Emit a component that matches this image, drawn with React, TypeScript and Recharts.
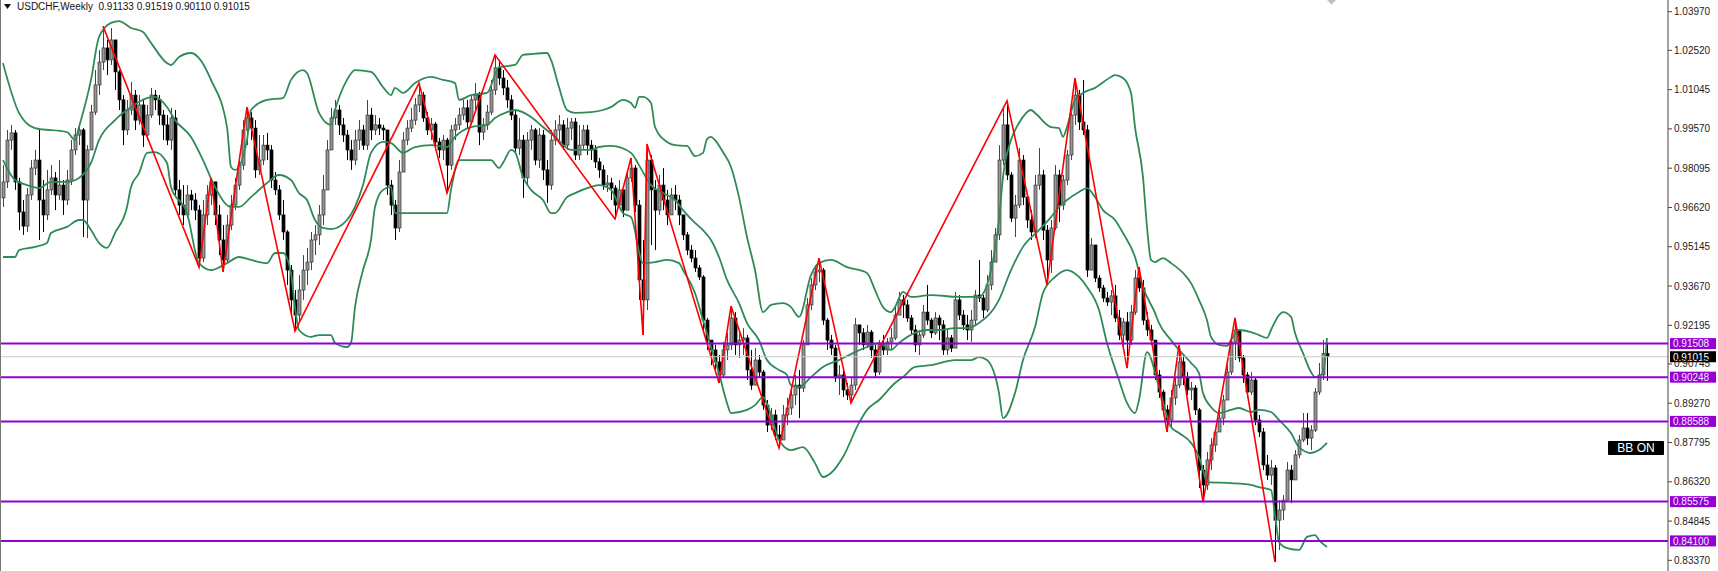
import { ComposedChart, Bar, Line, XAxis, YAxis, ReferenceLine } from 'recharts'

// weekly USDCHF, bar 0 = oldest visible week
const firstOpen = 0.9698

const closes = [
  0.9758, 0.9915, 0.9942, 0.9758, 0.9645, 0.9592, 0.9709, 0.981, 0.984, 0.969,
  0.9634, 0.9728, 0.9773, 0.9709, 0.9746, 0.969, 0.9765, 0.9878, 0.9934, 0.9953,
  0.969, 0.9878, 1.002, 1.0122, 1.0208, 1.0261, 1.0216, 1.0291, 1.0171, 1.0066,
  0.9953, 1.0028, 1.0084, 0.999, 1.0047, 0.9934, 1.0009, 1.0084, 1.0066, 1.0009,
  0.9972, 0.9915, 0.9998, 0.9728, 0.9671, 0.9634, 0.9709, 0.969, 0.9652, 0.9472,
  0.9634, 0.9709, 0.9758, 0.9634, 0.954, 0.9465, 0.9596, 0.9671, 0.9746, 0.9821,
  0.9953, 0.9998, 0.996, 0.9803, 0.984, 0.9896, 0.9878, 0.9765, 0.9728, 0.9634,
  0.957, 0.9427, 0.9315, 0.9258, 0.9352, 0.9427, 0.9457, 0.954, 0.9559, 0.9634,
  0.9728, 0.9878, 0.9998, 1.0028, 0.9972, 0.9934, 0.9878, 0.984, 0.9915, 0.9953,
  0.9896, 1.0009, 0.9953, 0.9972, 0.996, 0.9953, 0.9746, 0.9671, 0.9585, 0.9795,
  0.9915, 0.996, 0.999, 1.0047, 1.0084, 0.9998, 0.9953, 0.9975, 0.9908, 0.9878,
  0.9915, 0.9821, 0.9953, 0.9972, 1.0009, 1.0036, 0.9983, 1.0066, 1.0084, 0.9945,
  0.9972, 1.002, 1.0103, 1.0186, 1.0148, 1.0111, 1.0066, 1.0009, 0.9885, 0.9915,
  0.9773, 0.9915, 0.9953, 0.984, 0.9934, 0.9803, 0.9746, 0.9915, 0.9953, 0.9972,
  0.9896, 0.996, 0.9983, 0.9859, 0.9896, 0.9953, 0.9896, 0.9878, 0.9833, 0.9803,
  0.9746, 0.9754, 0.9735, 0.9671, 0.9728, 0.9652, 0.9773, 0.981, 0.9671, 0.939,
  0.9315, 0.984, 0.9728, 0.9652, 0.9746, 0.969, 0.9634, 0.9709, 0.969, 0.9634,
  0.9559, 0.9502, 0.9472, 0.9435, 0.9401, 0.9239, 0.9164, 0.9127, 0.9082, 0.9033,
  0.9127, 0.9146, 0.9247, 0.9146, 0.9164, 0.9172, 0.9052, 0.8995, 0.9089, 0.9044,
  0.892, 0.8845, 0.8883, 0.8808, 0.8789, 0.8883, 0.8909, 0.8958, 0.8995, 0.8984,
  0.9146, 0.9296, 0.9371, 0.942, 0.9427, 0.9239, 0.9164, 0.9134, 0.9022, 0.9033,
  0.8977, 0.8958, 0.8995, 0.9221, 0.9191, 0.9146, 0.9194, 0.9127, 0.9044, 0.9146,
  0.9127, 0.9157, 0.9172, 0.9258, 0.9315, 0.9296, 0.9247, 0.9202, 0.9146, 0.9183,
  0.9269, 0.9239, 0.9191, 0.9247, 0.9221, 0.9127, 0.9172, 0.9134, 0.9315, 0.9258,
  0.9221, 0.9202, 0.9239, 0.9333, 0.9322, 0.9277, 0.9371, 0.9457, 0.9559, 0.984,
  0.9972, 0.9784, 0.9622, 0.9671, 0.984, 0.9701, 0.9615, 0.957, 0.9746, 0.9784,
  0.9577, 0.9465, 0.9585, 0.9784, 0.9671, 0.9765, 0.9859, 1.0009, 1.0084, 0.9983,
  0.9953, 0.9427, 0.9521, 0.9397, 0.936, 0.9322, 0.9307, 0.933, 0.9247, 0.9183,
  0.9232, 0.9164, 0.9269, 0.9397, 0.936, 0.9239, 0.9202, 0.9164, 0.9033, 0.8969,
  0.8902, 0.8864, 0.8947, 0.8995, 0.9082, 0.9022, 0.8977, 0.8984, 0.8902, 0.8676,
  0.862, 0.8714, 0.877, 0.8819, 0.8871, 0.8939, 0.9044, 0.9157, 0.9202, 0.9097,
  0.9033, 0.8969, 0.9014, 0.8864, 0.8819, 0.8695, 0.8657, 0.8684, 0.8488, 0.8526,
  0.8563, 0.8676, 0.8639, 0.8733, 0.8789, 0.8834, 0.8796, 0.8826, 0.8969, 0.9033,
  0.91133, 0.91015,
]

const highs = [
  0.9821, 0.9953, 0.9972, 0.9953, 0.9773, 0.969, 0.9735, 0.984, 0.9878, 0.9953,
  0.9765, 0.9803, 0.9821, 0.9795, 0.984, 0.9765, 0.9803, 0.9915, 0.996, 0.9972,
  0.996, 0.9896, 1.0047, 1.0178, 1.0253, 1.0343, 1.0291, 1.0336, 1.0272, 1.0178,
  1.0084, 1.0066, 1.0133, 1.0103, 1.0084, 1.0066, 1.0047, 1.0111, 1.0103, 1.0084,
  1.0028, 1.0009, 1.0036, 1.0028, 0.9765, 0.9746, 0.9746, 0.9728, 0.9716, 0.9671,
  0.969, 0.9746, 0.9773, 0.9746, 0.9671, 0.9596, 0.9634, 0.9709, 0.9773, 0.9859,
  0.999, 1.0039, 1.002, 0.999, 0.9934, 0.9934, 0.9942, 0.9896, 0.9795, 0.9746,
  0.969, 0.9577, 0.9446, 0.9352, 0.9408, 0.9483, 0.951, 0.957, 0.9596, 0.9671,
  0.9784, 0.9915, 1.0036, 1.0066, 1.0047, 0.9998, 0.9953, 0.9915, 0.9953, 0.999,
  0.9972, 1.0066, 1.0036, 1.0009, 0.9998, 0.9972, 0.984, 0.9765, 0.969, 0.984,
  0.9945, 0.999, 1.0036, 1.0073, 1.0129, 1.0096, 1.002, 0.9998, 0.9983, 0.9923,
  0.9934, 0.9923, 0.9972, 0.9998, 1.0036, 1.0066, 1.0066, 1.0084, 1.0129, 1.0096,
  0.9998, 1.0047, 1.0141, 1.0235, 1.0216, 1.0178, 1.0141, 1.0084, 1.0028, 0.9998,
  0.9934, 0.9945, 0.9972, 0.996, 0.996, 0.9953, 0.984, 0.9953, 0.999, 1.0009,
  0.999, 0.9998, 0.9998, 0.9998, 0.9972, 0.9972, 0.9972, 0.9915, 0.9896, 0.9848,
  0.9821, 0.9784, 0.9773, 0.9746, 0.9765, 0.9728, 0.9795, 0.9848, 0.9821, 0.969,
  0.954, 0.99, 0.9859, 0.9765, 0.9784, 0.981, 0.9728, 0.9735, 0.9746, 0.9709,
  0.9615, 0.957, 0.9521, 0.9502, 0.9446, 0.9408, 0.9247, 0.9164, 0.9146, 0.9108,
  0.9157, 0.9191, 0.9292, 0.9269, 0.9202, 0.9209, 0.9183, 0.9127, 0.9134, 0.9108,
  0.9052, 0.8939, 0.8909, 0.8902, 0.8845, 0.892, 0.8947, 0.8995, 0.9033, 0.9052,
  0.9164, 0.9322, 0.9397, 0.9446, 0.9472, 0.9435, 0.9247, 0.9183, 0.9146, 0.907,
  0.9052, 0.9003, 0.9022, 0.9247, 0.9221, 0.9209, 0.9221, 0.9202, 0.9146, 0.9164,
  0.9183, 0.9172, 0.9209, 0.9296, 0.9345, 0.9333, 0.9315, 0.9258, 0.9221, 0.9202,
  0.9296, 0.9371, 0.9247, 0.9269, 0.9258, 0.9239, 0.9202, 0.9183, 0.9345, 0.9333,
  0.9277, 0.9258, 0.9277, 0.9352, 0.9465, 0.9333, 0.9408, 0.9502, 0.9585, 0.9896,
  1.0036, 1.0062, 0.9795, 0.9709, 0.9885, 0.9859, 0.9709, 0.9652, 0.9784, 0.9885,
  0.9803, 0.9596, 0.9615, 0.9821, 0.9803, 0.9784, 0.9878, 1.0054, 1.0148, 1.0103,
  1.0141, 0.9972, 0.9547, 0.9521, 0.9408, 0.9371, 0.9345, 0.9352, 0.9371, 0.9277,
  0.9247, 0.9269, 0.9296, 0.9427, 0.9438, 0.939, 0.9269, 0.9221, 0.9164, 0.9052,
  0.8977, 0.892, 0.8977, 0.9022, 0.9146, 0.9108, 0.9044, 0.9007, 0.8995, 0.8909,
  0.8695, 0.8744, 0.8796, 0.8834, 0.8902, 0.8958, 0.907, 0.9183, 0.9247, 0.9194,
  0.9108, 0.9044, 0.9044, 0.9022, 0.8883, 0.8834, 0.8733, 0.8714, 0.8695, 0.8563,
  0.8582, 0.8706, 0.8695, 0.8751, 0.8808, 0.889, 0.889, 0.8845, 0.8984, 0.9078,
  0.9164, 0.91519,
]

const lows = [
  0.9664, 0.9735, 0.9878, 0.9728, 0.9577, 0.9559, 0.957, 0.969, 0.9784, 0.954,
  0.957, 0.9615, 0.9709, 0.9652, 0.969, 0.9634, 0.9671, 0.9746, 0.9859, 0.9896,
  0.9551, 0.9547, 0.9878, 1.0009, 1.0084, 1.0178, 1.0159, 1.0197, 1.0103, 1.0028,
  0.9896, 0.9934, 1.0009, 0.9953, 0.9972, 0.9889, 0.9915, 0.9998, 1.0028, 0.9972,
  0.9915, 0.9896, 0.9878, 0.9709, 0.9634, 0.9596, 0.9622, 0.9652, 0.9615, 0.9438,
  0.9457, 0.9596, 0.9671, 0.9596, 0.9483, 0.942, 0.9457, 0.9577, 0.9652, 0.9728,
  0.9803, 0.9896, 0.9915, 0.9773, 0.9784, 0.9821, 0.984, 0.9735, 0.9709, 0.9615,
  0.954, 0.9371, 0.9258, 0.9198, 0.9232, 0.9315, 0.9371, 0.9427, 0.9483, 0.9521,
  0.9596, 0.9728, 0.9878, 0.9972, 0.9934, 0.9908, 0.984, 0.9803, 0.9821, 0.9878,
  0.9878, 0.9878, 0.9915, 0.9934, 0.9934, 0.9915, 0.9709, 0.9634, 0.954, 0.957,
  0.9795, 0.9896, 0.9945, 0.9972, 1.002, 0.9983, 0.9934, 0.9915, 0.9889, 0.9848,
  0.984, 0.9716, 0.9803, 0.9915, 0.9953, 0.999, 0.996, 0.9972, 1.002, 0.9896,
  0.9915, 0.9953, 1.0009, 1.0084, 1.0122, 1.0084, 1.0036, 0.999, 0.987, 0.9859,
  0.9698, 0.9746, 0.9878, 0.9821, 0.981, 0.9765, 0.9679, 0.9728, 0.9896, 0.9915,
  0.9878, 0.9878, 0.9915, 0.984, 0.984, 0.9878, 0.9859, 0.984, 0.981, 0.9773,
  0.9728, 0.972, 0.969, 0.9619, 0.9671, 0.9626, 0.9652, 0.9758, 0.9645, 0.9315,
  0.9183, 0.9277, 0.9521, 0.9502, 0.9634, 0.9652, 0.9596, 0.9634, 0.9652, 0.9596,
  0.954, 0.9483, 0.9457, 0.942, 0.939, 0.9202, 0.9127, 0.907, 0.9052, 0.9003,
  0.9022, 0.9089, 0.9127, 0.9108, 0.9097, 0.9108, 0.9014, 0.8977, 0.9044, 0.9022,
  0.8902, 0.8819, 0.8826, 0.8789, 0.8759, 0.8826, 0.8845, 0.8883, 0.892, 0.8871,
  0.8969, 0.9146, 0.9277, 0.9352, 0.9382, 0.9221, 0.9127, 0.9108, 0.9007, 0.8958,
  0.895, 0.8939, 0.8928, 0.8977, 0.9146, 0.9127, 0.9134, 0.9097, 0.9022, 0.9033,
  0.9108, 0.9108, 0.9127, 0.9164, 0.9258, 0.9247, 0.9232, 0.9183, 0.9119, 0.9108,
  0.9172, 0.9221, 0.9172, 0.9183, 0.9164, 0.9108, 0.9108, 0.9119, 0.9146, 0.9239,
  0.9202, 0.9164, 0.9157, 0.9221, 0.9307, 0.9247, 0.9269, 0.9352, 0.9457, 0.954,
  0.9821, 0.9765, 0.9607, 0.9551, 0.966, 0.9671, 0.9585, 0.954, 0.9547, 0.9728,
  0.954, 0.9371, 0.9416, 0.9577, 0.9607, 0.9652, 0.9746, 0.984, 0.9972, 0.9953,
  0.9934, 0.9401, 0.9457, 0.9382, 0.9345, 0.9307, 0.9292, 0.9258, 0.9232, 0.9164,
  0.9134, 0.9059, 0.9146, 0.9258, 0.9345, 0.9221, 0.9179, 0.9146, 0.9014, 0.8947,
  0.8883, 0.8819, 0.8834, 0.892, 0.8984, 0.8995, 0.8958, 0.8939, 0.8883, 0.8609,
  0.8556, 0.8601, 0.8676, 0.8744, 0.8826, 0.8845, 0.8939, 0.9033, 0.9089, 0.9082,
  0.9003, 0.8947, 0.8958, 0.8845, 0.88, 0.8676, 0.8639, 0.862, 0.8331, 0.8376,
  0.8488, 0.8563, 0.8552, 0.8639, 0.8721, 0.8781, 0.877, 0.8751, 0.8819, 0.8958,
  0.9014, 0.9011,
]

// Bollinger bands: [bar, price]
const upperBand = [
  [0, 1.0204], [4, 1.0017], [8, 0.996], [16, 0.9945], [18, 0.9915], [19, 0.9964], [22, 1.0141], [24, 1.0302],
  [27, 1.0355], [29, 1.0362], [32, 1.0336], [35, 1.0321], [37, 1.028], [41, 1.0204], [42, 1.0197], [44, 1.0227],
  [47, 1.0242], [49, 1.0223], [52, 1.0141], [56, 0.9964], [57, 0.9814], [58, 0.9803], [61, 0.9915], [62, 1.0028],
  [66, 1.0066], [70, 1.0073], [72, 1.0141], [75, 1.0178], [76, 1.0167], [79, 1.0017], [82, 0.9972], [83, 1.0028],
  [86, 1.0141], [88, 1.0178], [92, 1.0171], [95, 1.0114], [97, 1.0084], [98, 1.0111], [100, 1.0092], [103, 1.0129],
  [107, 1.0152], [110, 1.0141], [113, 1.0129], [114, 1.0066], [117, 1.0084], [121, 1.0092], [124, 1.0189], [128, 1.0197],
  [130, 1.0235], [132, 1.0238], [136, 1.0242], [137, 1.0216], [139, 1.0114], [141, 1.0028], [143, 1.0017], [147, 1.002],
  [150, 1.0028], [152, 1.0039], [155, 1.0066], [157, 1.0054], [158, 1.0036], [159, 1.0077], [160, 1.0077], [162, 1.0054],
  [163, 0.9964], [166, 0.9908], [168, 0.9896], [171, 0.9893], [173, 0.9855], [175, 0.9867], [176, 0.9919], [177, 0.9927],
  [178, 0.9915], [180, 0.987], [182, 0.9814], [184, 0.9701], [186, 0.9551], [188, 0.9427], [190, 0.9269], [192, 0.9296],
  [195, 0.9303], [197, 0.9288], [199, 0.9251], [202, 0.9408], [204, 0.9453], [207, 0.9465], [211, 0.9438], [216, 0.9416],
  [218, 0.9352], [220, 0.9288], [222, 0.9269], [223, 0.9288], [225, 0.9345], [227, 0.9326], [232, 0.9333], [239, 0.9326],
  [244, 0.9326], [247, 0.9427], [249, 0.9615], [250, 0.9776], [252, 0.9915], [254, 0.9979], [257, 1.0028], [258, 1.0017],
  [262, 0.9964], [264, 0.996], [265, 0.9927], [266, 0.9964], [268, 1.0066], [270, 1.0092], [273, 1.0111], [277, 1.0152],
  [278, 1.0159], [280, 1.0148], [282, 1.0092], [283, 0.9964], [285, 0.9776], [286, 0.9589], [287, 0.9465], [288, 0.9457],
  [290, 0.9472], [292, 0.9453], [295, 0.9416], [297, 0.9378], [299, 0.9315], [301, 0.9239], [302, 0.9176], [304, 0.9146],
  [306, 0.9142], [307, 0.9164], [309, 0.9202], [312, 0.9194], [314, 0.9183], [316, 0.9172], [317, 0.9202], [319, 0.9258],
  [320, 0.9269], [322, 0.9251], [323, 0.9191], [325, 0.9115], [327, 0.9044], [328, 0.9025], [330, 0.904], [331, 0.9172],
]

const midBand = [
  [0, 0.984], [3, 0.9765], [6, 0.9746], [9, 0.9735], [12, 0.9758], [16, 0.9758], [19, 0.9773], [22, 0.9829],
  [24, 0.9915], [28, 0.999], [32, 1.0039], [36, 1.0073], [38, 1.0077], [41, 1.0039], [43, 0.999], [47, 0.9927],
  [50, 0.984], [53, 0.9739], [57, 0.9664], [59, 0.9664], [62, 0.9701], [66, 0.9754], [69, 0.9784], [72, 0.9765],
  [74, 0.9716], [76, 0.969], [78, 0.9615], [80, 0.9585], [82, 0.9581], [86, 0.9615], [88, 0.9664], [90, 0.9746],
  [92, 0.9867], [95, 0.9908], [97, 0.9904], [100, 0.9867], [103, 0.9889], [107, 0.9896], [111, 0.9889], [113, 0.9927],
  [117, 0.9964], [121, 0.9972], [123, 0.9998], [126, 1.002], [128, 1.0028], [132, 1.0002], [135, 0.9964], [138, 0.9927],
  [142, 0.9878], [147, 0.9878], [149, 0.9889], [152, 0.9893], [157, 0.9867], [159, 0.9821], [162, 0.9746], [165, 0.9716],
  [168, 0.969], [170, 0.9652], [173, 0.9604], [175, 0.9577], [177, 0.954], [179, 0.9476], [181, 0.939], [184, 0.9303],
  [186, 0.9228], [189, 0.9164], [191, 0.9089], [194, 0.9052], [196, 0.9033], [197, 0.8995], [199, 0.8988], [202, 0.9025],
  [205, 0.9063], [209, 0.9089], [213, 0.9119], [216, 0.9138], [219, 0.9153], [222, 0.9127], [224, 0.9153], [228, 0.9191],
  [231, 0.9202], [234, 0.9202], [238, 0.9209], [241, 0.9209], [244, 0.9228], [249, 0.9315], [252, 0.9427], [255, 0.9514],
  [259, 0.9577], [262, 0.9626], [264, 0.9664], [266, 0.969], [269, 0.972], [271, 0.9735], [273, 0.9701], [275, 0.9652],
  [278, 0.9615], [280, 0.9566], [283, 0.9476], [285, 0.9363], [288, 0.9266], [289, 0.9228], [292, 0.9164], [294, 0.9127],
  [297, 0.9078], [299, 0.904], [300, 0.8965], [302, 0.8913], [304, 0.889], [307, 0.8902], [309, 0.8909], [312, 0.8894],
  [314, 0.8902], [317, 0.8894], [319, 0.8864], [322, 0.8815], [324, 0.8762], [327, 0.874], [329, 0.8751], [331, 0.8778],
]

const lowerBand = [
  [0, 0.9476], [3, 0.9476], [4, 0.9502], [8, 0.9514], [11, 0.9529], [12, 0.9566], [16, 0.9589], [19, 0.9615],
  [20, 0.9615], [22, 0.9577], [24, 0.9529], [26, 0.951], [28, 0.9566], [31, 0.9664], [32, 0.9739], [34, 0.9791],
  [36, 0.9867], [38, 0.987], [41, 0.9829], [42, 0.9739], [46, 0.9641], [49, 0.9453], [52, 0.9427], [56, 0.9453],
  [59, 0.9476], [62, 0.9465], [66, 0.9453], [68, 0.9491], [70, 0.9491], [72, 0.9416], [73, 0.9288], [74, 0.9202],
  [77, 0.9176], [79, 0.9183], [82, 0.9183], [83, 0.9153], [86, 0.9138], [87, 0.9153], [88, 0.9288], [90, 0.9427],
  [92, 0.954], [93, 0.9664], [95, 0.9728], [97, 0.9739], [98, 0.9641], [111, 0.9641], [112, 0.9728], [114, 0.984],
  [122, 0.984], [124, 0.981], [125, 0.9829], [127, 0.9878], [128, 0.987], [130, 0.9776], [132, 0.9728], [135, 0.969],
  [137, 0.9641], [138, 0.9641], [141, 0.9701], [143, 0.9716], [147, 0.9739], [149, 0.9746], [152, 0.9728], [155, 0.9641],
  [157, 0.9626], [160, 0.9453], [163, 0.9457], [166, 0.9465], [169, 0.9453], [170, 0.9427], [173, 0.9341], [175, 0.9239],
  [177, 0.9138], [179, 0.904], [181, 0.8928], [182, 0.889], [186, 0.8902], [188, 0.892], [190, 0.895], [192, 0.8883],
  [194, 0.8789], [197, 0.8751], [200, 0.8762], [203, 0.8702], [205, 0.865], [207, 0.8665], [210, 0.8725], [214, 0.8853],
  [216, 0.8902], [219, 0.8939], [223, 0.9003], [225, 0.9025], [228, 0.9063], [232, 0.907], [238, 0.9089], [242, 0.9089],
  [244, 0.91], [246, 0.9089], [249, 0.8965], [250, 0.8871], [253, 0.8965], [255, 0.9089], [258, 0.9213], [260, 0.9341],
  [263, 0.9401], [266, 0.9427], [269, 0.9401], [271, 0.9363], [274, 0.9277], [276, 0.9153], [279, 0.9014], [281, 0.8928],
  [283, 0.889], [284, 0.8939], [286, 0.9119], [289, 0.8988], [292, 0.8838], [294, 0.8815], [297, 0.8778], [299, 0.8725],
  [300, 0.8676], [301, 0.8631], [307, 0.8627], [312, 0.862], [314, 0.8612], [317, 0.8601], [318, 0.8507], [319, 0.8406],
  [321, 0.8383], [324, 0.8376], [326, 0.8425], [328, 0.8432], [329, 0.8413], [331, 0.8387],
]

// zigzag turning points: [bar, price]
const zigzag = [
  [25, 1.0343], [49, 0.9438], [52, 0.9773], [55, 0.942], [61, 1.0039], [73, 0.9198], [104, 1.0129], [111, 0.9716],
  [123, 1.0235], [153, 0.9619], [157, 0.9848], [160, 0.9183], [161, 0.99], [179, 0.9003], [182, 0.9292], [194, 0.8759],
  [204, 0.9472], [212, 0.8928], [251, 1.0062], [261, 0.9371], [268, 1.0148], [281, 0.9059], [284, 0.9438], [291, 0.8819],
  [294, 0.9146], [300, 0.8556], [308, 0.9247], [318, 0.8331],
]

const levels = [0.91508, 0.90248, 0.88588, 0.85575, 0.841]
const lastPrice = 0.91015
const priceTicks = [
  1.0397, 1.0252, 1.01045, 0.9957, 0.98095, 0.9662, 0.95145, 0.9367,
  0.92195, 0.90745, 0.8927, 0.87795, 0.8632, 0.84845, 0.8337,
]

const FONT = '"Liberation Sans", Arial, sans-serif'
const PURPLE = '#9400d3'
const GREEN = '#2e8b57'

const rows = closes.map((c, i) => {
  const o = i === 0 ? firstOpen : closes[i - 1]
  const h = Math.max(highs[i], o, c)
  const l = Math.min(lows[i], o, c)
  return { i, o, h, l, c, range: [l, h] }
})

const toPts = (arr: number[][]) => arr.map(([i, v]) => ({ i, v }))

function Candle(props: any) {
  const { x, y, width, height, payload } = props
  if (!payload || height == null) return null
  const { o, c, h, l } = payload
  const top = Math.min(y, y + height)
  const span = Math.abs(height) || 1
  const px = (v: number) => top + ((h - v) / (h - l || 1)) * span
  const cx = Math.round(x + width / 2) + 0.5
  const bTop = px(Math.max(o, c))
  const bBot = Math.max(px(Math.min(o, c)), bTop + 1)
  const bull = c >= o
  return (
    <g>
      <line x1={cx} x2={cx} y1={top} y2={top + span} stroke={bull ? '#444' : '#000'} strokeWidth={1} />
      <rect
        x={cx - 1.5}
        y={bTop}
        width={3}
        height={bBot - bTop}
        fill={bull ? '#969696' : '#000'}
        stroke={bull ? '#333' : '#000'}
        strokeWidth={0.7}
      />
    </g>
  )
}

function Tag({ viewBox, text, bg, fg }: any) {
  if (!viewBox) return null
  const x = viewBox.x + viewBox.width + 2
  const y = viewBox.y
  return (
    <g>
      <rect x={x} y={y - 5.5} width={46} height={11} fill={bg} />
      <text x={x + 3} y={y + 3.8} fontSize={10} fontFamily={FONT} fill={fg}>
        {text}
      </text>
    </g>
  )
}

export default function App() {
  return (
    <div style={{ position: 'absolute', left: 0, top: 0, width: 1718, height: 571, background: '#fff', overflow: 'hidden' }}>
      <ComposedChart width={1718} height={571} data={rows} margin={{ top: 0, right: 0, bottom: 0, left: 0 }}>
        <XAxis dataKey="i" type="number" domain={[-0.75, 416.25]} allowDataOverflow hide />
        <YAxis
          orientation="right"
          type="number"
          width={50}
          domain={[0.8297, 1.0441]}
          allowDataOverflow
          ticks={priceTicks}
          interval={0}
          tickFormatter={(v: number) => v.toFixed(5)}
          tick={{ fontSize: 10, fill: '#222', fontFamily: FONT }}
          tickSize={4}
          tickMargin={2}
          axisLine={{ stroke: '#444' }}
          tickLine={{ stroke: '#444' }}
        />
        <Bar dataKey="range" barSize={3} shape={<Candle />} isAnimationActive={false} />
        <Line data={toPts(upperBand)} dataKey="v" type="monotone" stroke={GREEN} strokeWidth={1.8} dot={false} isAnimationActive={false} />
        <Line data={toPts(midBand)} dataKey="v" type="monotone" stroke={GREEN} strokeWidth={1.8} dot={false} isAnimationActive={false} />
        <Line data={toPts(lowerBand)} dataKey="v" type="monotone" stroke={GREEN} strokeWidth={1.8} dot={false} isAnimationActive={false} />
        <Line data={toPts(zigzag)} dataKey="v" type="linear" stroke="#ff0000" strokeWidth={1.6} dot={false} isAnimationActive={false} />
        <ReferenceLine y={lastPrice} stroke="#c8c8c8" strokeWidth={1} label={<Tag text={lastPrice.toFixed(5)} bg="#000" fg="#fff" />} />
        {levels.map((v) => (
          <ReferenceLine key={v} y={v} stroke={PURPLE} strokeWidth={2} label={<Tag text={v.toFixed(5)} bg={PURPLE} fg="#f3e8ff" />} />
        ))}
      </ComposedChart>

      <div style={{ position: 'absolute', left: 0, top: 0, width: 1, height: 571, background: '#777' }} />
      <div style={{ position: 'absolute', left: 4, top: 1, fontFamily: FONT, fontSize: 10, color: '#111', whiteSpace: 'pre', display: 'flex', alignItems: 'center' }}>
        <svg width={8} height={6} style={{ marginRight: 5 }}>
          <polygon points="0,0 7,0 3.5,5" fill="#111" />
        </svg>
        {'USDCHF,Weekly  0.91133 0.91519 0.90110 0.91015'}
      </div>
      <svg style={{ position: 'absolute', left: 1327, top: 0 }} width={10} height={6}>
        <polygon points="0,0 9,0 4.5,4.5" fill="#c0c0c0" />
      </svg>
      <div
        style={{
          position: 'absolute', left: 1608, top: 441, width: 56, height: 14, background: '#000', color: '#fff',
          fontFamily: FONT, fontSize: 12, lineHeight: '14px', textAlign: 'center', borderRadius: 1,
        }}
      >
        BB ON
      </div>
    </div>
  )
}
